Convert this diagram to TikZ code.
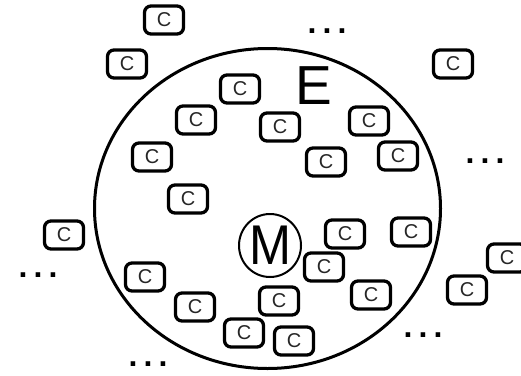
\documentclass[tikz,border=0pt]{standalone}
\usepackage{fontspec}
\setmainfont{Liberation Sans}
\newfontfamily\dotfont[LetterSpace=19]{Liberation Sans Bold}
\usetikzlibrary{shapes.geometric}
\tikzset{
  cbox/.style={draw, line width=3.3pt, rounded corners=6.5pt, fill=white,
    minimum width=39pt, minimum height=28pt, inner sep=0pt,
    font=\fontsize{20}{20}\selectfont, text=black!85},
  dots/.style={anchor=base, inner sep=0pt, font=\dotfont\fontsize{32}{32}\selectfont},
  world/.style={draw, ellipse, line width=3pt, minimum width=346pt, minimum height=320pt, inner sep=0pt}
}
\begin{document}
\begin{tikzpicture}[x=1pt,y=-1pt]
\useasboundingbox[fill=white] (0,0) rectangle (521,375);
\node[world] (world) at (267.5,208.5) {};
\node[font=\fontsize{55}{55}\selectfont, inner sep=0pt] (e) at (314,86) {E};
\node[draw, ellipse, line width=2pt, minimum width=62pt, minimum height=63pt, inner sep=0pt,
  font=\fontsize{56}{56}\selectfont] (m) at (270,245.5) {\scalebox{0.9}[1]{M}};
\node[cbox] (c1) at (164,20) {C};
\node[cbox] (c2) at (127,64) {C};
\node[cbox] (c3) at (240,89) {C};
\node[cbox] (c4) at (196,120) {C};
\node[cbox] (c5) at (152,157) {C};
\node[cbox] (c6) at (188,199) {C};
\node[cbox] (c7) at (64,235) {C};
\node[cbox] (c8) at (145,277) {C};
\node[cbox] (c9) at (195,307) {C};
\node[cbox] (c10) at (244,333) {C};
\node[cbox] (c11) at (294,341) {C};
\node[cbox] (c12) at (279,301) {C};
\node[cbox] (c13) at (324,267) {C};
\node[cbox] (c14) at (345,234) {C};
\node[cbox] (c15) at (411,232) {C};
\node[cbox] (c16) at (371,295) {C};
\node[cbox] (c17) at (467,290) {C};
\node[cbox] (c18) at (507,258) {C};
\node[cbox] (c19) at (280,127) {C};
\node[cbox] (c20) at (326,162) {C};
\node[cbox] (c21) at (369,121) {C};
\node[cbox] (c22) at (398,156) {C};
\node[cbox] (c23) at (453,64) {C};
\node[dots] (d1) at (327,33) {...};
\node[dots] (d2) at (485,163) {...};
\node[dots] (d3) at (38,277) {...};
\node[dots] (d4) at (148,366) {...};
\node[dots] (d5) at (423,337) {...};
\end{tikzpicture}
\end{document}
